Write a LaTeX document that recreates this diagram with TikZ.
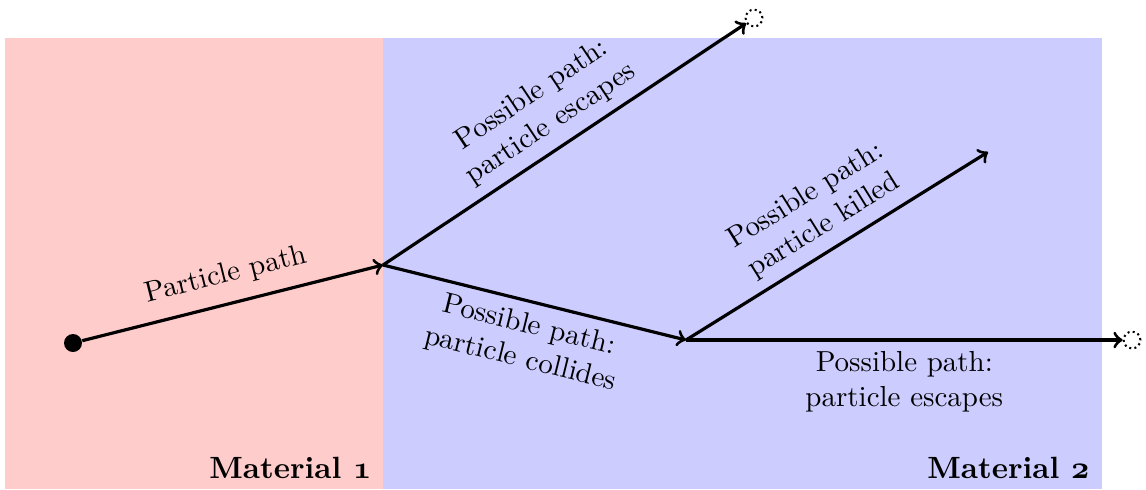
\documentclass[tikz,border=0pt]{standalone}
\usetikzlibrary{arrows}
\newcommand{\boldosf}[1]{{\usefont{OML}{cmm}{b}{it}#1}}
\begin{document}
\begin{tikzpicture}[x=0.345pt,y=-0.345pt,
  conn/.style={->,line width=1.1pt},
  dotnode/.style={circle,fill=black,inner sep=0pt,minimum size=6.2pt},
  hole/.style={circle,draw,line width=0.7pt,dash pattern=on 0.7pt off 1.1pt,inner sep=0pt,minimum size=5.8pt},
  lbl/.style={align=center,sloped},
  mat/.style={font=\fontsize{10.6}{12}\bfseries,inner sep=0pt,anchor=base east}]
\useasboundingbox (0,0) rectangle (1146,489);
\fill[red!20] (5,38) rectangle (383,489);
\fill[blue!20] (383,38) rectangle (1102,489);
\node[dotnode] (start) at (73,343) {};
\coordinate (A) at (383,265);
\coordinate (B) at (686,340);
\node[hole] (esc1) at (754,18) {};
\coordinate (kill) at (988,152);
\node[hole] (esc2) at (1132,340) {};
\draw[conn] (start) -- node[lbl,above=1.5pt] (l1) {Particle path} (A);
\draw[conn] (A) -- node[lbl,above] (l2) {Possible path:\\particle escapes} (esc1);
\draw[conn] (A) -- node[lbl,below] (l3) {Possible path:\\particle collides} (B);
\draw[conn] (B) -- node[lbl,above] (l4) {Possible path:\\particle killed} (kill);
\draw[conn] (B) -- node[lbl,below] (l5) {Possible path:\\particle escapes} (esc2);
\node[mat] (m1) at (372,478) {Material \boldosf{1}};
\node[mat] (m2) at (1090,478) {Material \boldosf{2}};
\end{tikzpicture}
\end{document}
